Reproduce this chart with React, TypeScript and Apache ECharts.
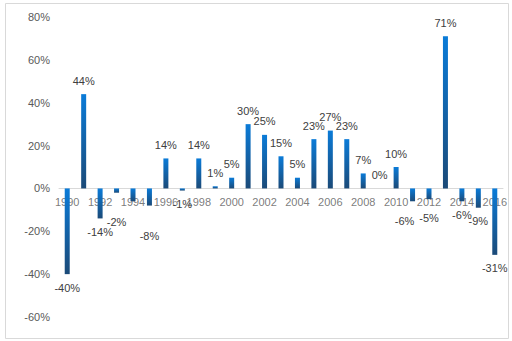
import React, { useEffect, useRef } from "react";
import * as echarts from "echarts";

const years: string[] = [
  "1990", "1991", "1992", "1993", "1994", "1995", "1996", "1997", "1998", "1999",
  "2000", "2001", "2002", "2003", "2004", "2005", "2006", "2007", "2008", "2009",
  "2010", "2011", "2012", "2013", "2014", "2015", "2016",
];
const returns: number[] = [
  -40, 44, -14, -2, -6, -8, 14, -1, 14, 1,
  5, 30, 25, 15, 5, 23, 27, 23, 7, 0,
  10, -6, -5, 71, -6, -9, -31,
];
const hiddenLabelYears: string[] = ["1994"];
// label nudges [dx, dy] (px) for labels that were moved to avoid the axis labels
const labelNudge: Record<string, number[]> = {
  "1993": [0, 16],
  "1995": [0, 17],
  "2011": [-8, 6],
  "2012": [0, 5],
};
const tickLabelYears: string[] = years.filter((_, i) => i % 2 === 0);
const yTicks = { min: -60, max: 80, step: 20 };

export default function App() {
  const ref = useRef<HTMLDivElement>(null);
  useEffect(() => {
    if (!ref.current) return;
    const chart = echarts.init(ref.current, undefined, { renderer: "svg" });
    const grad = new echarts.graphic.LinearGradient(0, 0, 0, 1, [
      { offset: 0, color: "#0a7bd8" },
      { offset: 1, color: "#1b4a78" },
    ]);
    const data = returns.map((v, i) => ({
      value: v,
      label: {
        show: !hiddenLabelYears.includes(years[i]),
        position: v < 0 ? "bottom" : "top",
        offset: labelNudge[years[i]] || [0, 0],
      },
    }));
    chart.setOption({
      animation: false,
      grid: { left: 59, right: 9, top: 17, bottom: 24, containLabel: false },
      graphic: [
        {
          type: "rect",
          left: 3,
          top: 1,
          shape: { x: 0, y: 0, width: 503, height: 335 },
          style: { fill: "none", stroke: "#d9d9d9", lineWidth: 1 },
          silent: true,
        },
      ],
      xAxis: {
        type: "category",
        data: years,
        axisLine: { onZero: true, lineStyle: { color: "#d9d9d9" } },
        axisTick: { show: false },
        axisLabel: { show: false },
      },
      yAxis: {
        type: "value",
        min: yTicks.min,
        max: yTicks.max,
        interval: yTicks.step,
        axisLine: { show: false },
        axisTick: { show: false },
        splitLine: { show: false },
        axisLabel: {
          formatter: "{value}%",
          color: "#595959",
          fontSize: 11,
          fontFamily: "Liberation Sans",
          margin: 9,
        },
      },
      series: [
        {
          type: "scatter",
          data: tickLabelYears.map((y) => [y, 0]),
          symbolSize: 0,
          silent: true,
          z: 1,
          label: {
            show: true,
            position: "bottom",
            distance: 8,
            formatter: (p: any) => p.value[0],
            color: "#595959",
            fontSize: 11,
            fontFamily: "Liberation Sans",
          },
        },
        {
          type: "bar",
          data,
          barWidth: 5,
          z: 2,
          itemStyle: { color: grad },
          label: {
            show: true,
            formatter: (p: any) => p.value + "%",
            color: "#404040",
            fontSize: 11,
            fontFamily: "Liberation Sans",
            distance: 8,
          },
        },
      ],
    });
    return () => chart.dispose();
  }, []);
  return (
    <div
      ref={ref}
      style={{ position: "absolute", left: 0, top: 0, width: 512, height: 341, background: "#fff" }}
    />
  );
}
